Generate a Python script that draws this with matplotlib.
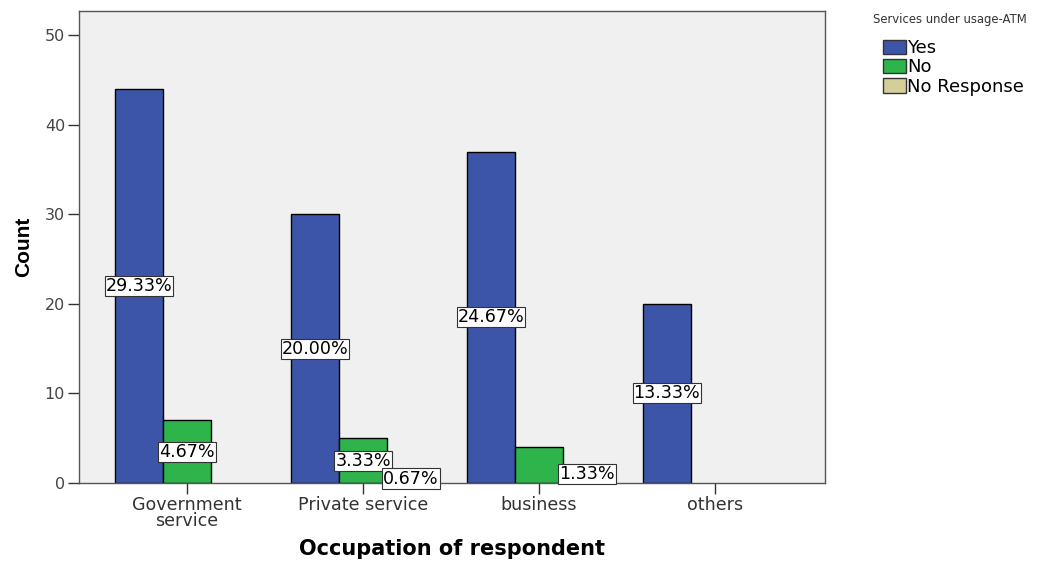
import matplotlib
matplotlib.use("Agg")
import matplotlib.pyplot as plt
import numpy as np

plt.rcParams['font.family'] = ['DejaVu Sans']

categories = ["Government\nservice", "Private service", "business", "others"]
series_names = ["Yes", "No", "No Response"]
yes_counts = [44, 30, 37, 20]
no_counts = [7, 5, 4, 0]
nr_counts = [0, 1, 2, 0]
yes_labels = ["29.33%", "20.00%", "24.67%", "13.33%"]
no_labels = ["4.67%", "3.33%", None, None]
nr_labels = [None, "0.67%", "1.33%", None]
colors = ["#3d55a9", "#2eb44b", "#d4cf98"]

fig = plt.figure(figsize=(10.43, 5.61), dpi=100)
ax = fig.add_axes([79/1043, 1-483/561, (825-79)/1043, (483-11)/561])
ax.set_facecolor("#f0f0f0")

x = np.arange(len(categories))
w = 0.273
series = [yes_counts, no_counts, nr_counts]
labels = [yes_labels, no_labels, nr_labels]
for k, (vals, labs) in enumerate(zip(series, labels)):
    pos = x + (k - 1) * w
    bars = ax.bar(pos, vals, width=w, color=colors[k], edgecolor="black",
                  linewidth=1.0, label=series_names[k], zorder=2)
    for b, v in zip(bars, vals):
        if v == 0:
            b.set_visible(False)
    for p, v, lab in zip(pos, vals, labs):
        if lab is None:
            continue
        ax.text(p, v / 2, lab, ha="center", va="center", fontsize=12.6,
                zorder=4,
                bbox=dict(boxstyle="square,pad=0.06", facecolor="white",
                          edgecolor="#333333", linewidth=0.8))

ax.set_xlim(-0.614, 3.625)
ax.set_ylim(0, 52.7)
ax.set_yticks([0, 10, 20, 30, 40, 50])
ax.set_xticks(x)
ax.set_xticklabels(categories, fontsize=12.6, linespacing=0.92, color="#222222")
ax.tick_params(axis="y", labelsize=11.5, length=8, width=1, direction="out",
               colors="#333333", labelcolor="#444444", pad=2)
ax.tick_params(axis="x", length=8, width=1, direction="out", pad=1, colors="#333333")
for s in ax.spines.values():
    s.set_color("#555555")
    s.set_linewidth(1)
ax.set_ylabel("Count", fontsize=15, fontweight="bold", labelpad=8,
              family="Liberation Sans")
ax.set_xlabel("Occupation of respondent", fontsize=15, fontweight="bold",
              va="center")
ax.xaxis.set_label_coords(0.5, (483 - 549) / 472)

fig.text(873/1043, 1-20/561, "Services under usage-ATM", fontsize=8.4,
         ha="left", va="center", color="#333333")
handles = [plt.Rectangle((0, 0), 1, 1, facecolor=c, edgecolor="#333333", linewidth=1)
           for c in colors]
leg = fig.legend(handles, series_names, loc="upper left",
                 bbox_to_anchor=(883/1043, 1-39/561), fontsize=13,
                 frameon=False, handlelength=1.25, handleheight=0.85,
                 handletextpad=0.1, labelspacing=0.08,
                 borderaxespad=0, borderpad=0)

fig.savefig("out.png", dpi=100)
